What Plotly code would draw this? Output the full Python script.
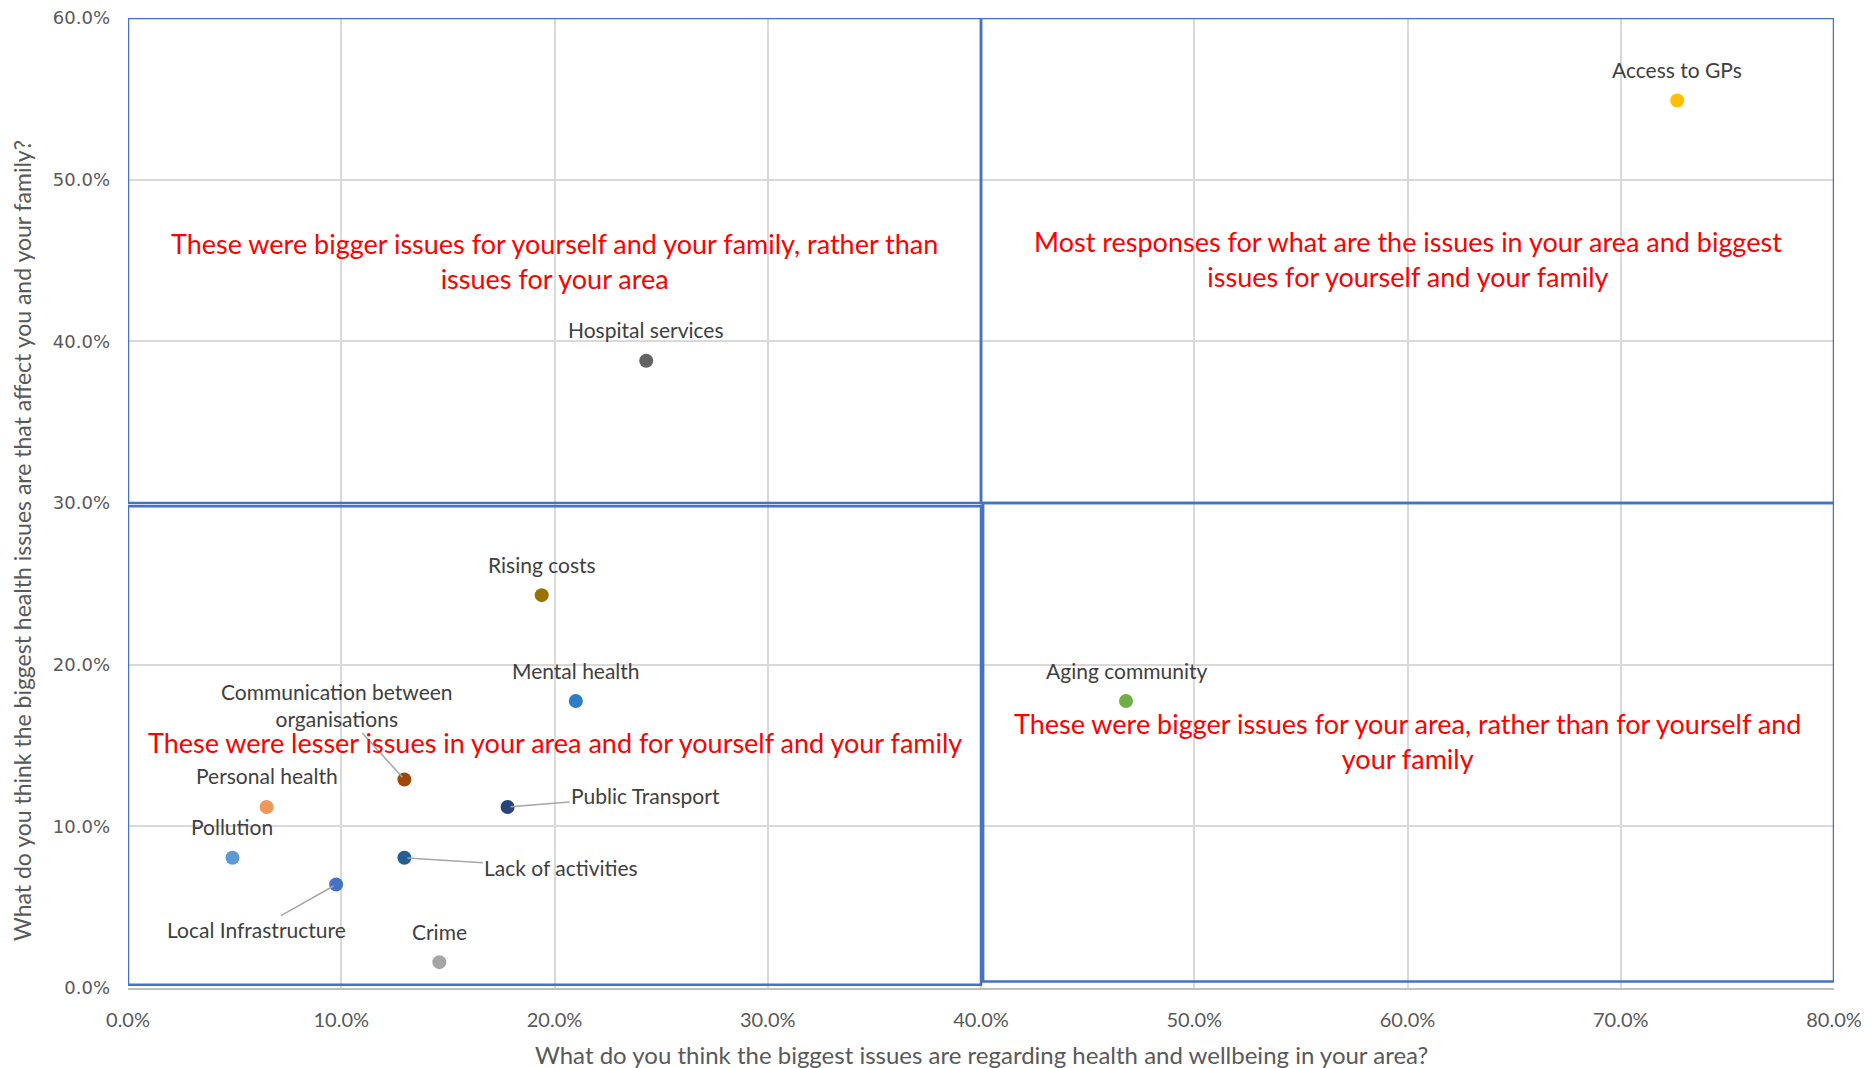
import plotly.graph_objects as go

# ---------------- data ----------------
issues = [
    "Access to GPs", "Hospital services", "Rising costs", "Mental health",
    "Aging community", "Communication between<br>organisations", "Personal health",
    "Public Transport", "Pollution", "Lack of activities", "Local Infrastructure", "Crime",
]
area_pct = [72.65, 24.3, 19.4, 21.0, 46.8, 12.96, 6.5, 17.8, 4.9, 12.96, 9.76, 14.6]
family_pct = [54.9, 38.8, 24.3, 17.75, 17.75, 12.9, 11.2, 11.2, 8.06, 8.06, 6.4, 1.6]

x_ticks = [0, 10, 20, 30, 40, 50, 60, 70, 80]
x_tick_labels = ["0.0%", "10.0%", "20.0%", "30.0%", "40.0%", "50.0%", "60.0%", "70.0%", "80.0%"]
y_ticks = [0, 10, 20, 30, 40, 50, 60]
y_tick_labels = ["0.0%", "10.0%", "20.0%", "30.0%", "40.0%", "50.0%", "60.0%"]

quadrant_texts = [
    "These were bigger issues for yourself and your family, rather than<br>issues for your area",
    "Most responses for what are the issues in your area and biggest<br>issues for yourself and your family",
    "These were lesser issues in your area and for yourself and your family",
    "These were bigger issues for your area, rather than for yourself and<br>your family",
]
x_title = "What do you think the biggest issues are regarding health and wellbeing in your area?"
y_title = "What do you think the biggest health issues are that affect you and your family?"

# ---------------- styles ----------------
colors = ["#FFC000", "#636363", "#997300", "#2E7CC4", "#70AD47", "#9E480E",
          "#F1975A", "#264478", "#5B9BD5", "#255E91", "#4472C4", "#A5A5A5"]
# label offsets in pixels (dx, dy) for labels drawn with a leader line
label_style = {
    "Communication between<br>organisations": (-67, -74),
    "Public Transport": (138, -11),
    "Lack of activities": (157, 10),
    "Local Infrastructure": (-80, 45),
}
FONT = "Lato"
GREY = "#595959"
W, H = 1868, 1060

fig = go.Figure()
fig.add_trace(go.Scatter(
    x=area_pct, y=family_pct, mode="markers",
    marker=dict(size=14, color=colors, line=dict(width=0)),
    hovertext=issues, showlegend=False,
))

annotations = []
for name, xv, yv in zip(issues, area_pct, family_pct):
    if name in label_style:
        dx, dy = label_style[name]
        annotations.append(dict(
            x=xv, y=yv, xref="x", yref="y", text=name, showarrow=True,
            ax=dx, ay=dy, arrowhead=0, arrowwidth=1.5, arrowcolor="#A6A6A6",
            standoff=3, font=dict(family=FONT, size=21, color="#404040"),
        ))
    else:
        annotations.append(dict(
            x=xv, y=yv, xref="x", yref="y", text=name, showarrow=False,
            yshift=31, font=dict(family=FONT, size=21, color="#404040"),
        ))

quad_pos = [(20, 45.0), (60, 45.1), (20, 15.2), (60, 15.3)]
for t, (qx, qy) in zip(quadrant_texts, quad_pos):
    annotations.append(dict(
        x=qx, y=qy, xref="x", yref="y", text=t, showarrow=False,
        font=dict(family=FONT, size=27, color="#FF0000"), align="center",
    ))

annotations.append(dict(
    x=0.5, y=-0.069, xref="paper", yref="paper", text=x_title, showarrow=False,
    xanchor="center", yanchor="middle", font=dict(family=FONT, size=24, color=GREY),
))
annotations.append(dict(
    x=-0.062, y=0.461, xref="paper", yref="paper", text=y_title, showarrow=False,
    textangle=-90, xanchor="center", yanchor="middle",
    font=dict(family=FONT, size=23, color=GREY),
))

box = dict(type="rect", xref="x", yref="y", line=dict(color="#4472C4", width=2.5),
           fillcolor="rgba(0,0,0,0)", layer="above")
shapes = [
    dict(box, x0=0, x1=40, y0=30.0, y1=60),
    dict(box, x0=40, x1=80, y0=30.0, y1=60),
    dict(box, x0=0, x1=40, y0=0.2, y1=29.8),
    dict(box, x0=40.1, x1=80, y0=0.4, y1=30.0),
]

fig.update_layout(
    width=W, height=H,
    margin=dict(l=120, r=42, t=10, b=80, autoexpand=False),
    paper_bgcolor="white", plot_bgcolor="white",
    annotations=annotations, shapes=shapes,
    xaxis=dict(range=[0, 80], tickvals=x_ticks, ticktext=x_tick_labels,
               showgrid=True, gridcolor="#D9D9D9", gridwidth=1.5, zeroline=False,
               showline=True, linecolor="#BFBFBF", linewidth=2, automargin=False,
               tickfont=dict(family=FONT, size=20, color=GREY),
               ticklabelstandoff=13, ticklabeloverflow="allow", fixedrange=True),
    yaxis=dict(range=[0, 60], tickvals=y_ticks, ticktext=y_tick_labels,
               showgrid=True, gridcolor="#D9D9D9", gridwidth=1.5, zeroline=False,
               showline=False, automargin=False,
               tickfont=dict(family="DejaVu Sans", size=18, color=GREY),
               ticklabelstandoff=17, ticklabeloverflow="allow", fixedrange=True),
)

fig.write_html("out.html")
